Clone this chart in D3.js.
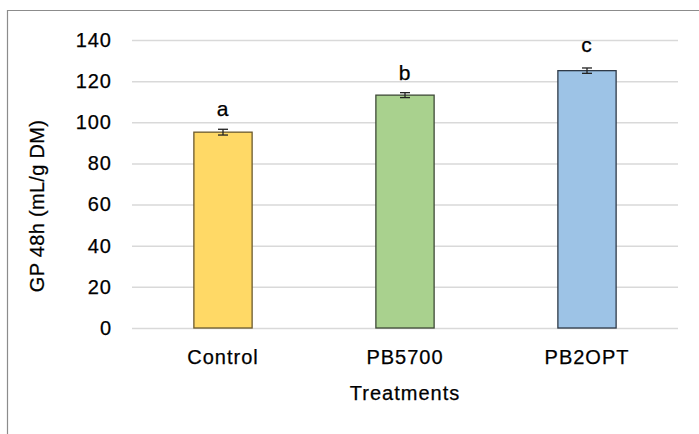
<!DOCTYPE html>
<html>
<head>
<meta charset="utf-8">
<script src="https://cdn.jsdelivr.net/npm/d3@7"></script>
<style>
  body{margin:0;background:#fff;}
  text{font-family:"Liberation Sans",Arial,sans-serif;fill:#000;letter-spacing:1px;stroke:#000;stroke-width:0.25px;}
</style>
</head>
<body>
<svg id="chart"></svg>
<script>
var treatments = ["Control","PB5700","PB2OPT"];
var gpValues   = [95.2, 113.2, 125.1];
var gpErrors   = [1.4, 1.2, 1.3];
var sigLetters = ["a","b","c"];
var yTicks     = [0,20,40,60,80,100,120,140];
var barColors  = ["#ffd966","#a9d18e","#9dc3e6"];
var barStrokes = ["#6b5a2e","#3f4a38","#2f3a48"];

var width = 699, height = 434;
var margin = {top:40, bot:106, left:132, right:21};

var svg = d3.select("#chart")
            .attr("width",width)
            .attr("height",height);

// outer frame, cut by the picture on the right and bottom
svg.append("path")
   .attr("d","M7.5,440V10.5H705")
   .attr("fill","none")
   .attr("stroke","#8c8c8c")
   .attr("stroke-width",1.2);

var xScale = d3.scaleBand()
               .domain(treatments)
               .range([margin.left,width-margin.right])
               .paddingInner(0.68)
               .paddingOuter(0.34);
var yScale = d3.scaleLinear()
               .domain([0,140])
               .range([height-margin.bot,margin.top]);

// gridlines
var yAxis = d3.axisLeft(yScale)
              .tickValues(yTicks)
              .tickSize(-(width-margin.right-margin.left))
              .tickPadding(20);
var gy = svg.append("g")
            .attr("transform","translate("+margin.left+",0)")
            .call(yAxis);
gy.select(".domain").remove();
gy.selectAll(".tick line").attr("stroke","#d9d9d9").attr("stroke-width",1.5);
gy.selectAll(".tick text").style("font-size","20px").attr("dy","0.32em");

// bars
svg.selectAll("rect.bar")
   .data(treatments)
   .enter().append("rect")
   .attr("class","bar")
   .attr("x",function(d){return xScale(d);})
   .attr("width",xScale.bandwidth())
   .attr("y",function(d,i){return yScale(gpValues[i]);})
   .attr("height",function(d,i){return yScale(0)-yScale(gpValues[i]);})
   .attr("fill",function(d,i){return barColors[i];})
   .attr("stroke",function(d,i){return barStrokes[i];})
   .attr("stroke-width",1.3);

// error bars
var err = svg.selectAll("g.err")
             .data(treatments)
             .enter().append("g")
             .attr("class","err")
             .attr("stroke","#222")
             .attr("stroke-width",1.3);
err.append("line")
   .attr("x1",function(d){return xScale(d)+xScale.bandwidth()/2;})
   .attr("x2",function(d){return xScale(d)+xScale.bandwidth()/2;})
   .attr("y1",function(d,i){return yScale(gpValues[i]+gpErrors[i]);})
   .attr("y2",function(d,i){return yScale(gpValues[i]-gpErrors[i]);});
[1,-1].forEach(function(s){
  err.append("line")
     .attr("x1",function(d){return xScale(d)+xScale.bandwidth()/2-5;})
     .attr("x2",function(d){return xScale(d)+xScale.bandwidth()/2+5;})
     .attr("y1",function(d,i){return yScale(gpValues[i]+s*gpErrors[i]);})
     .attr("y2",function(d,i){return yScale(gpValues[i]+s*gpErrors[i]);});
});

// significance letters
svg.selectAll("text.sig")
   .data(treatments)
   .enter().append("text")
   .attr("class","sig")
   .attr("x",function(d){return xScale(d)+xScale.bandwidth()/2;})
   .attr("y",function(d,i){return yScale(gpValues[i]+gpErrors[i])-13-(i==2?3:0);})
   .attr("text-anchor","middle")
   .style("font-size","21px")
   .text(function(d,i){return sigLetters[i];});

// category labels
var xAxis = d3.axisBottom(xScale).tickSize(0).tickPadding(22);
var gx = svg.append("g")
            .attr("transform","translate(0,"+(height-margin.bot)+")")
            .call(xAxis);
gx.select(".domain").remove();
gx.selectAll(".tick text").style("font-size","20px");

// axis titles
svg.append("text")
   .attr("x",(margin.left+width-margin.right)/2)
   .attr("y",400)
   .attr("text-anchor","middle")
   .style("font-size","20px")
   .text("Treatments");
svg.append("text")
   .attr("transform","translate(44,206) rotate(-90)")
   .attr("text-anchor","middle")
   .style("font-size","20px")
   .style("letter-spacing","0.3px")
   .text("GP 48h (mL/g DM)");
</script>
</body>
</html>
